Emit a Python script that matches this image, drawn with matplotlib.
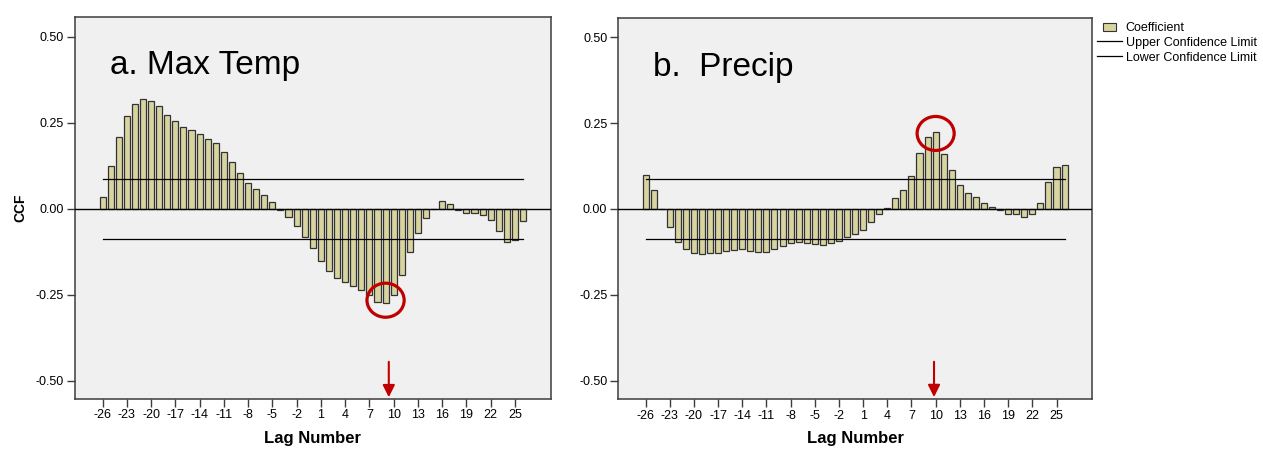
import numpy as np
import matplotlib
matplotlib.use("Agg")
import matplotlib.pyplot as plt
from matplotlib.patches import Ellipse, Rectangle, Patch
from matplotlib.lines import Line2D
from matplotlib.legend_handler import HandlerPatch

plt.rcParams['font.family'] = ['Liberation Sans', 'DejaVu Sans']

# lags -26 .. 26
lags = np.arange(-26, 27)

# cross-correlation values
ccf_temp = [0.035, 0.125, 0.209, 0.270, 0.304, 0.320, 0.312, 0.298, 0.272, 0.256,
            0.237, 0.228, 0.217, 0.203, 0.190, 0.166, 0.136, 0.104, 0.075, 0.058,
            0.040, 0.018, -0.003, -0.025, -0.051, -0.082, -0.115, -0.151, -0.180, -0.201,
            -0.212, -0.226, -0.237, -0.250, -0.271, -0.274, -0.250, -0.192, -0.127, -0.071,
            -0.028, -0.002, 0.021, 0.013, -0.005, -0.013, -0.013, -0.018, -0.033, -0.065,
            -0.096, -0.091, -0.036]
ccf_precip = [0.098, 0.056, 0.0, -0.053, -0.095, -0.116, -0.127, -0.132, -0.129, -0.128,
              -0.123, -0.120, -0.118, -0.123, -0.125, -0.125, -0.116, -0.107, -0.099, -0.096,
              -0.098, -0.101, -0.104, -0.100, -0.094, -0.083, -0.073, -0.061, -0.038, -0.016,
              0.002, 0.033, 0.054, 0.096, 0.164, 0.209, 0.225, 0.159, 0.113, 0.070,
              0.047, 0.034, 0.017, 0.007, -0.004, -0.016, -0.014, -0.022, -0.015, 0.017,
              0.078, 0.121, 0.128]

conf_limit = 0.087
xtick_vals = np.arange(-26, 26, 3)
ytick_vals = [-0.50, -0.25, 0.00, 0.25, 0.50]

titles = ["a. Max Temp", "b.  Precip"]
arrow_lags = [9.4, 9.8]

bar_face = '#d8d4a0'
bar_edge = '#333333'
spine_col = '#3c3c3c'
red = '#c00000'

fig = plt.figure(figsize=(12.63, 4.49), dpi=100)
axes_pos = [[0.0591, 0.1114, 0.3771, 0.8515],
            [0.4891, 0.1110, 0.3758, 0.8479]]
ylims = [(-0.553, 0.558), (-0.554, 0.555)]

axs = []
for i, vals in enumerate([ccf_temp, ccf_precip]):
    ax = fig.add_axes(axes_pos[i])
    ax.set_facecolor('#f0f0f0')
    vals = np.array(vals)

    ax.bar(lags, vals, width=0.75, color=bar_face, edgecolor=bar_edge,
           linewidth=0.9, zorder=2)
    ax.axhline(0, color='black', lw=1.0, zorder=3)
    ax.plot([lags[0], lags[-1]], [conf_limit, conf_limit], color='black', lw=0.9, zorder=3)
    ax.plot([lags[0], lags[-1]], [-conf_limit, -conf_limit], color='black', lw=0.9, zorder=3)

    ax.set_xlim(-29.45, 29.45)
    ax.set_ylim(*ylims[i])
    ax.set_xticks(xtick_vals)
    ax.set_xticklabels([str(v) for v in xtick_vals])
    ax.set_yticks(ytick_vals)
    ax.set_yticklabels(['%.2f' % v for v in ytick_vals])
    ax.tick_params(axis='both', direction='out', length=6, width=1.0,
                   color=spine_col, labelsize=9, pad=1.5)
    for s in ax.spines.values():
        s.set_color(spine_col)
        s.set_linewidth(1.1)

    ax.set_xlabel("Lag Number", fontsize=12, fontweight='bold')
    ax.xaxis.set_label_coords(0.5, -0.083)

    ax.text(0.074, 0.85, titles[i], transform=ax.transAxes, fontsize=24,
            ha='left', va='baseline')

    # red circle around the extreme bars
    if i == 0:
        k = np.argmin(vals)
        cy = vals[k] + 0.008
    else:
        k = np.argmax(vals)
        cy = vals[k] - 0.005
    ax.add_patch(Ellipse((lags[k], cy), 4.6, 0.099, fill=False,
                         edgecolor=red, lw=2.3, zorder=5))

    # red arrow pointing at lag ~10
    ax.annotate('', xy=(arrow_lags[i], -0.548), xytext=(arrow_lags[i], -0.445),
                arrowprops=dict(arrowstyle='-|>', color=red, lw=1.5,
                                mutation_scale=18, shrinkA=0, shrinkB=0),
                zorder=6)
    axs.append(ax)

axs[0].set_ylabel("CCF", fontsize=10, fontweight='bold')
axs[0].yaxis.set_label_coords(-0.100, 0.5)


# small square for the coefficient swatch
def small_box(legend, orig_handle, xdescent, ydescent, width, height, fontsize):
    return Rectangle((width * 0.25 - xdescent, -ydescent + height * 0.05),
                     width * 0.5, height * 0.9)


handles = [Patch(facecolor=bar_face, edgecolor=bar_edge, linewidth=0.8),
           Line2D([], [], color='black', lw=0.9),
           Line2D([], [], color='black', lw=0.9)]
labels = ["Coefficient", "Upper Confidence Limit", "Lower Confidence Limit"]
fig.legend(handles, labels, loc='upper left', bbox_to_anchor=(0.8645, 0.962),
           frameon=False, fontsize=9.0, handlelength=2.0, handleheight=0.75,
           handletextpad=0.3, labelspacing=0.22, borderaxespad=0,
           handler_map={Patch: HandlerPatch(patch_func=small_box)})

fig.savefig("out.png", dpi=100)
